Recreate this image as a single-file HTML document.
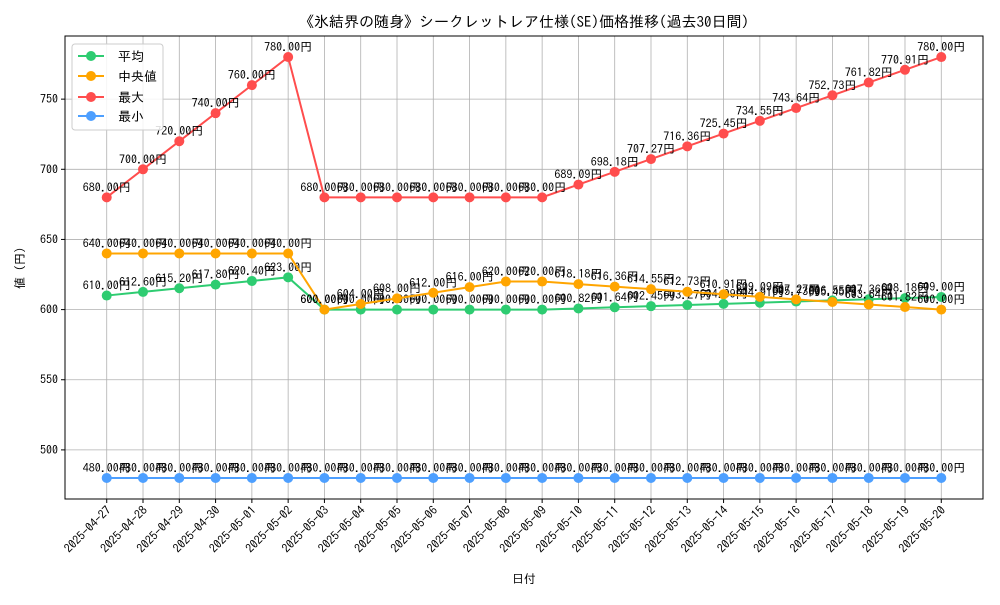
<!DOCTYPE html>
<html><head><meta charset="utf-8">
<style>
body{margin:0;background:#fff;}
svg text{font-family:"IPAGothic","Noto Sans CJK JP",sans-serif;fill:#000;}
</style></head>
<body>
<svg id="chart" width="1000" height="600" viewBox="0 0 1000 600" xmlns="http://www.w3.org/2000/svg">
<rect x="0" y="0" width="1000" height="600" fill="#fff"/>
<text x="524" y="27" font-size="15" text-anchor="middle">《氷結界の随身》シークレットレア仕様(SE)価格推移(過去30日間)</text>
<g id="grid"></g>
<g id="axes"></g>
<g id="series"></g>
<rect x="65" y="36" width="918" height="463" fill="none" stroke="#000" stroke-width="1"/>
<text x="524" y="583" font-size="12" text-anchor="middle">日付</text>
<text transform="translate(24,268) rotate(-90)" font-size="12" text-anchor="middle">値 (円)</text>
<g>
<rect x="72" y="44" width="91" height="86" rx="3" fill="#fff" fill-opacity="0.85" stroke="#ccc"/>
<g><line x1="78" y1="56" x2="104" y2="56" stroke="#2ecc71" stroke-width="2"/><circle cx="91" cy="56" r="5" fill="#2ecc71"/><text x="118" y="61" font-size="13">平均</text></g>
<g><line x1="78" y1="76" x2="104" y2="76" stroke="#ffa500" stroke-width="2"/><circle cx="91" cy="76" r="5" fill="#ffa500"/><text x="118" y="81" font-size="13">中央値</text></g>
<g><line x1="78" y1="97" x2="104" y2="97" stroke="#ff4d4d" stroke-width="2"/><circle cx="91" cy="97" r="5" fill="#ff4d4d"/><text x="118" y="102" font-size="13">最大</text></g>
<g><line x1="78" y1="116" x2="104" y2="116" stroke="#4d9fff" stroke-width="2"/><circle cx="91" cy="116" r="5" fill="#4d9fff"/><text x="118" y="121" font-size="13">最小</text></g>
</g>
</svg>
<script>
const dates = ["2025-04-27","2025-04-28","2025-04-29","2025-04-30","2025-05-01","2025-05-02","2025-05-03","2025-05-04","2025-05-05","2025-05-06","2025-05-07","2025-05-08","2025-05-09","2025-05-10","2025-05-11","2025-05-12","2025-05-13","2025-05-14","2025-05-15","2025-05-16","2025-05-17","2025-05-18","2025-05-19","2025-05-20"];
const meanValues = [610,612.6,615.2,617.8,620.4,623,600,600,600,600,600,600,600,600.82,601.64,602.45,603.27,604.09,604.91,605.73,606.55,607.36,608.18,609];
const medianValues = [640,640,640,640,640,640,600,604,608,612,616,620,620,618.18,616.36,614.55,612.73,610.91,609.09,607.27,605.45,603.64,601.82,600];
const maxValues = [680,700,720,740,760,780,680,680,680,680,680,680,680,689.09,698.18,707.27,716.36,725.45,734.55,743.64,752.73,761.82,770.91,780];
const minValues = [480,480,480,480,480,480,480,480,480,480,480,480,480,480,480,480,480,480,480,480,480,480,480,480];
const yTicks = [500,550,600,650,700,750];

const NS="http://www.w3.org/2000/svg";
const X0=65,X1=983,Y0=36,Y1=499;
const n=dates.length;
const pad=(n-1)*0.05;
const xMin=-pad,xMax=n-1+pad;
const allV=[].concat(meanValues,medianValues,maxValues,minValues);
const vMin=Math.min(...allV),vMax=Math.max(...allV);
const vpad=(vMax-vMin)*0.05;
const yLo=vMin-vpad,yHi=vMax+vpad;
function xs(i){return X0+(i-xMin)/(xMax-xMin)*(X1-X0);}
function ys(v){return Y1-(v-yLo)/(yHi-yLo)*(Y1-Y0);}
function mk(tag,attrs,parent){const e=document.createElementNS(NS,tag);for(const k in attrs)e.setAttribute(k,attrs[k]);parent.appendChild(e);return e;}
const grid=document.getElementById('grid'),axes=document.getElementById('axes'),ser=document.getElementById('series');

dates.forEach((d,i)=>{
  const x=xs(i);
  const gl=mk('line',{x1:x,y1:Y0,x2:x,y2:Y1,stroke:'#b0b0b0','stroke-width':0.8},grid);
  
  
  mk('line',{x1:x,y1:Y1,x2:x,y2:Y1+4,stroke:'#000'},axes);
  const t=mk('text',{x:x+5,y:Y1+12,'font-size':12,'text-anchor':'end',transform:`rotate(-45 ${x+5} ${Y1+12})`},axes);
  
  
  t.textContent=d;
});
yTicks.forEach(v=>{
  const y=ys(v);
  const gl=mk('line',{x1:X0,y1:y,x2:X1,y2:y,stroke:'#b0b0b0','stroke-width':0.8},grid);
  
  
  mk('line',{x1:X0-4,y1:y,x2:X0,y2:y,stroke:'#000'},axes);
  const t=mk('text',{x:X0-7,y:y+4,'font-size':12,'text-anchor':'end'},axes);
  
  
  t.textContent=v;
});

function drawSeries(vals,color,name){
  const g=mk('g',{},ser);
  
  
  const pts=vals.map((v,i)=>xs(i)+','+ys(v)).join(' ');
  const pl=mk('polyline',{points:pts,fill:'none',stroke:color,'stroke-width':2},g);
  
  
  vals.forEach((v,i)=>{
    const c=mk('circle',{cx:xs(i),cy:ys(v),r:5,fill:color},g);
    
    
  });
  vals.forEach((v,i)=>{
    const t=mk('text',{x:xs(i),y:ys(v)-6,'font-size':12,'text-anchor':'middle'},g);
    
    
    t.textContent=v.toFixed(2)+'円';
  });
}
drawSeries(meanValues,'#2ecc71','mean');
drawSeries(medianValues,'#ffa500','median');
drawSeries(maxValues,'#ff4d4d','max');
drawSeries(minValues,'#4d9fff','min');
</script>
</body></html>
